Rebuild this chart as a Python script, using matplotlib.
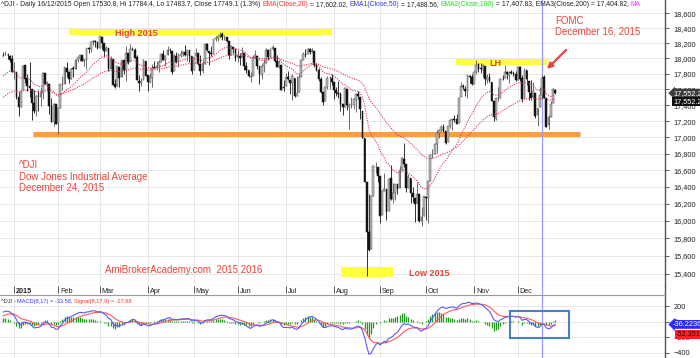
import numpy as np
import matplotlib
matplotlib.use("Agg")
import matplotlib.pyplot as plt
from matplotlib.ticker import FixedLocator, NullLocator, FuncFormatter
from matplotlib.patches import Rectangle
import matplotlib.transforms as mtransforms

plt.rcParams['font.family'] = ['Liberation Sans', 'DejaVu Sans']

# ---------------- data ----------------
first_bar = -5                      # 5 bars of late Dec 2014 before Jan 2, 2015
month_starts = [0, 20, 39, 61, 82, 102, 124, 146, 167, 188, 210, 230]
month_labels = ["2015", "Feb", "Mar", "Apr", "May", "Jun", "Jul", "Aug", "Sep", "Oct", "Nov", "Dec"]
fomc_bar = 241
price_ticks = list(range(15400, 18601, 200))
macd_ticks = [200, 0, -200, -400]

opens = [
    18035, 18038, 18046, 18035, 17987,
    17823, 17821, 17505, 17374, 17591, 17908, 17742, 17644, 17600, 17430, 17321, 17516, 17509, 17555, 17812, 17666, 17673, 17390, 17193, 17411,
    17170, 17363, 17662, 17674, 17880, 17819, 17730, 17869, 17864, 17977, 18010, 18045, 17966, 17985, 18134, 18117, 18211, 18224, 18215,
    18135, 18281, 18199, 18097, 18134, 17859, 17991, 17666, 17637, 17891, 17757, 17973, 17844, 18073, 17962, 18126, 18111, 18012, 17710, 17680, 17718, 17969,
    17778, 17700, 17745, 17884, 17875, 17903, 17956, 18053, 17978, 18040, 18110, 18098, 17831, 18037, 17952, 18034, 18061, 18082, 18038, 18108, 18032,
    17844, 18025, 18069, 17932, 17835, 17925, 18187, 18101, 18069, 18060, 18254, 18267, 18300, 18315, 18282, 18286, 18229, 18045, 18154, 18128,
    18017, 18031, 18016, 18069, 17905, 17848, 17765, 17767, 18002, 18032, 17895, 17790, 17907, 17938, 18116, 18018, 18120, 18142, 17968, 17891, 17912, 17627,
    17639, 17763, 17725, 17684, 17752, 17520, 17562, 17765, 17978, 18055, 18054, 18119, 18087, 18096, 17912, 17850, 17732, 17561, 17446, 17634, 17746, 17751,
    17689, 17597, 17556, 17547, 17417, 17377, 17608, 17382, 17403, 17400, 17466, 17536, 17502, 17330, 16990, 16459, 15872, 15676, 16291, 16640, 16632,
    16528, 16066, 16352, 16375, 16109, 16505, 16252, 16330, 16433, 16382, 16599, 16738, 16674, 16391, 16505, 16330, 16271, 16207, 16312, 16001, 16058,
    16278, 16267, 16471, 16778, 16791, 16912, 17055, 17084, 17121, 17080, 16944, 17141, 17209, 17223, 17220, 17175, 17508, 17645, 17607, 17581, 17772, 17756,
    17673, 17820, 17927, 17872, 17854, 17905, 17718, 17763, 17697, 17448, 17229, 17488, 17493, 17739, 17740, 17823, 17778, 17821, 17814, 17800,
    17719, 17884, 17740, 17485, 17845, 17703, 17558, 17500, 17554, 17276, 17375, 17530.8, 17756, 17495, 17154, 17252, 17428, 17593,
]
highs = [
    18086, 18103, 18073, 18043, 18044,
    17951, 17821, 17562, 17597, 17916, 17916, 17793, 17951, 17600, 17598, 17528, 17587, 17621, 17821, 17812, 17706, 17673, 17490, 17429, 17411,
    17361, 17666, 17769, 17885, 17951, 17822, 17881, 17902, 17991, 18020, 18049, 18045, 17991, 18141, 18146, 18213, 18246, 18240, 18215,
    18288, 18281, 18199, 18165, 18135, 18029, 17991, 17731, 17901, 17891, 17977, 17973, 18164, 18073, 18184, 18152, 18138, 18044, 17784, 17746, 17988, 17969,
    17778, 17810, 17927, 17970, 17962, 17979, 18060, 18105, 18045, 18159, 18134, 18098, 18056, 18089, 18069, 18106, 18101, 18175, 18111, 18108, 18032,
    18024, 18133, 18069, 18043, 17964, 18192, 18200, 18101, 18162, 18252, 18288, 18303, 18351, 18350, 18314, 18286, 18229, 18175, 18154, 18128,
    18107, 18074, 18152, 18069, 17949, 17848, 17827, 18048, 18108, 18032, 17895, 17926, 17985, 18137, 18116, 18137, 18175, 18142, 18046, 17985, 17912, 17720,
    17815, 17832, 17726, 17803, 17752, 17770, 17794, 17978, 18078, 18128, 18138, 18133, 18137, 18096, 17943, 17869, 17753, 17561, 17631, 17770, 17767, 17794,
    17689, 17629, 17709, 17571, 17417, 17634, 17608, 17430, 17508, 17485, 17552, 17578, 17502, 17330, 16990, 16459, 16312, 16285, 16666, 16693, 16632,
    16528, 16351, 16559, 16375, 16506, 16664, 16441, 16434, 16433, 16644, 16755, 16933, 16674, 16555, 16505, 16395, 16271, 16455, 16312, 16161, 16285,
    16278, 16472, 16798, 16855, 16934, 17085, 17084, 17149, 17162, 17080, 17142, 17216, 17231, 17272, 17287, 17503, 17689, 17673, 17644, 17780, 17789, 17799,
    17836, 17977, 17941, 17943, 17924, 17905, 17799, 17810, 17697, 17448, 17484, 17628, 17740, 17781, 17915, 17836, 17841, 17849, 17837, 17837,
    17895, 17901, 17787, 17876, 17845, 17703, 17720, 17691, 17554, 17370, 17627, 17784.4, 17778, 17495, 17272, 17447, 17615, 17606,
]
lows = [
    18027, 18038, 17990, 17958, 17820,
    17731, 17475, 17262, 17374, 17591, 17681, 17584, 17500, 17214, 17303, 17267, 17331, 17395, 17475, 17671, 17580, 17288, 17189, 17136, 17164,
    17037, 17363, 17597, 17674, 17759, 17687, 17730, 17757, 17864, 17949, 17961, 17969, 17907, 17862, 18075, 18087, 18180, 18152, 18125,
    18134, 18123, 18016, 18097, 17841, 17859, 17662, 17621, 17637, 17630, 17757, 17791, 17713, 17930, 17962, 18105, 18011, 17718, 17579, 17639, 17718, 17770,
    17577, 17679, 17624, 17875, 17857, 17818, 17948, 17977, 17899, 18040, 18071, 17795, 17831, 17944, 17888, 18012, 18026, 18026, 17970, 17958, 17792,
    17844, 18025, 17917, 17782, 17805, 17925, 18097, 17920, 18033, 18060, 18226, 18234, 18269, 18239, 18246, 18217, 17990, 18045, 18066, 17967,
    17949, 17920, 18016, 17850, 17810, 17757, 17697, 17767, 18002, 17867, 17664, 17731, 17822, 17938, 17985, 18018, 18111, 17956, 17889, 17876, 17592, 17585,
    17639, 17715, 17537, 17466, 17501, 17520, 17562, 17765, 17978, 18021, 18054, 18051, 18087, 17883, 17839, 17710, 17553, 17400, 17446, 17599, 17605, 17660,
    17472, 17518, 17495, 17330, 17276, 17377, 17335, 17100, 17365, 17354, 17309, 17476, 17230, 16991, 16459, 15370, 15651, 15676, 16291, 16560, 16453,
    15979, 16066, 16352, 16012, 16109, 16244, 16212, 16244, 16318, 16382, 16596, 16639, 16343, 16391, 16211, 16223, 15982, 16207, 15982, 15942, 16058,
    16014, 15980, 16471, 16750, 16791, 16804, 16995, 17066, 17070, 16917, 16944, 17117, 17091, 17184, 17163, 17175, 17508, 17599, 17520, 17490, 17682, 17660,
    17673, 17796, 17825, 17807, 17765, 17657, 17683, 17699, 17448, 17199, 17210, 17454, 17493, 17714, 17740, 17736, 17676, 17793, 17775, 17708,
    17719, 17703, 17439, 17485, 17652, 17462, 17461, 17500, 17238, 17139, 17375, 17483.7, 17491, 17128, 17101, 17252, 17428, 17536,
]
closes = [
    18030, 18053, 18038, 17983, 17823,
    17833, 17501, 17371, 17584, 17907, 17737, 17640, 17613, 17427, 17320, 17511, 17515, 17554, 17813, 17672, 17678, 17387, 17191, 17416, 17165,
    17361, 17666, 17673, 17885, 17824, 17729, 17868, 17862, 17973, 18019, 18047, 17972, 17986, 18140, 18117, 18209, 18225, 18215, 18133,
    18288, 18204, 18097, 18136, 17856, 17995, 17662, 17635, 17895, 17749, 17977, 17849, 18076, 17959, 18128, 18116, 18011, 17718, 17678, 17712, 17976, 17776,
    17698, 17763, 17881, 17875, 17903, 17958, 18057, 17977, 18036, 18113, 18105, 17826, 18034, 17949, 18038, 18058, 18080, 18038, 18110, 18035, 17841,
    18024, 18070, 17928, 17841, 17924, 18191, 18105, 18068, 18060, 18252, 18272, 18298, 18312, 18285, 18285, 18232, 18042, 18163, 18126, 18011,
    18040, 18011, 18076, 17905, 17849, 17766, 17765, 18000, 18039, 17899, 17792, 17905, 17935, 18116, 18015, 18120, 18144, 17967, 17891, 17947, 17597, 17620,
    17758, 17731, 17684, 17777, 17516, 17549, 17760, 17978, 18054, 18050, 18121, 18086, 18100, 17920, 17851, 17732, 17569, 17441, 17631, 17751, 17746, 17690,
    17598, 17551, 17541, 17419, 17373, 17615, 17403, 17402, 17409, 17477, 17546, 17512, 17349, 16991, 16460, 15871, 15666, 16285, 16655, 16643, 16528,
    16059, 16351, 16374, 16102, 16492, 16253, 16330, 16433, 16371, 16599, 16740, 16675, 16385, 16511, 16331, 16280, 16202, 16315, 16001, 16049, 16285,
    16272, 16472, 16777, 16791, 16913, 17051, 17084, 17131, 17082, 16925, 17142, 17216, 17230, 17218, 17169, 17489, 17647, 17624, 17582, 17780, 17756, 17664,
    17829, 17919, 17868, 17863, 17910, 17731, 17758, 17703, 17449, 17245, 17484, 17490, 17738, 17733, 17824, 17792, 17813, 17814, 17798, 17720,
    17888, 17730, 17478, 17848, 17730, 17568, 17493, 17575, 17265, 17368, 17525, 17749.1, 17495, 17128, 17252, 17418, 17603, 17552.2,
]

# indicator starting values (state of the averages at the first visible bar)
ema20_seed, ema50_seed = 17742, 17478
ema8_seed, ema17_seed, signal_seed = 17800, 17690, 60

# annotation levels (price) and spans (bar index)
high_2015_level, high_span = 18351, (25.0, 145.1)
support_level, support_span = 17040, (8.6, 258.3)
lh_level, lh_span = 17952, (201.7, 243.3)
low_2015_level, low_span = 15420, (149.2, 173.0)

title_parts = [
    ("^DJI - Daily 16/12/2015 Open 17530.8, Hi 17784.4, Lo 17483.7, Close 17749.1 (1.3%) ", "#222222"),
    ("EMA(Close,20)", "#ff3030"), (" = 17,602.02, ", "#222222"),
    ("EMA1(Close,50)", "#3535ff"), (" = 17,488.56, ", "#222222"),
    ("EMA2(Close,100)", "#22dd22"), (" = 17,407.83, EMA3(Close,200) = 17,404.82, ", "#222222"),
    ("MA", "#ff33ff"),
]
macd_title_parts = [
    ("^DJI - ", "#222222"), ("MACD(8,17) = -33.58,", "#3535ff"), (" Signal(8,17,9) = -27.68", "#ff3030"),
]
macd_last_label, signal_last_label = -36.2236, -52.3518

n = len(closes)
if not (len(opens) == len(highs) == len(lows) == n):
    raise ValueError(f"length mismatch {len(opens)} {len(highs)} {len(lows)} {n}")

x = np.arange(n) + first_bar
o = np.array(opens, float); h = np.array(highs, float)
l = np.array(lows, float); c = np.array(closes, float)


def ema(vals, period, seed):
    a = 2.0 / (period + 1)
    e = seed
    out = []
    for v in vals:
        e = e + a * (v - e)
        out.append(e)
    return np.array(out)


ema20 = ema(c, 20, ema20_seed)
ema50 = ema(c, 50, ema50_seed)
macd = ema(c, 8, ema8_seed) - ema(c, 17, ema17_seed)
signal = ema(macd, 9, signal_seed)
hist = macd - signal

# ---------------- layout ----------------
W, H = 700, 358
PR = 665
fig = plt.figure(figsize=(W / 100, H / 100), dpi=100)
fig.patch.set_facecolor("white")
ax = fig.add_axes([0, 1 - 286 / H, PR / W, 286 / H])
strip = fig.add_axes([0, 1 - 295 / H, PR / W, 9 / H])
axm = fig.add_axes([0, 0, PR / W, 63 / H])
xlim = (-6.5, 297.2)
GRID = "#e3e3e3"
RED = "#e8453c"

# ---- price panel
ax.set_yscale("log")
ax.set_ylim(15262, 18778)
ax.set_xlim(*xlim)
ax.yaxis.set_major_locator(FixedLocator(price_ticks))
ax.yaxis.set_minor_locator(NullLocator())
ax.yaxis.set_major_formatter(FuncFormatter(lambda v, p: f"{v:,.0f}"))
ax.yaxis.tick_right()
ax.tick_params(axis="y", labelsize=5.3, length=3, width=0.6, color="#444444", labelcolor="#222222", pad=3)
ax.set_xticks(month_starts)
ax.tick_params(axis="x", length=0, labelbottom=False)
ax.grid(True, color=GRID, lw=0.6, zorder=0)
ax.set_axisbelow(True)
for s in ("top", "left"):
    ax.spines[s].set_visible(False)
ax.spines["bottom"].set_color("#9a9a9a"); ax.spines["bottom"].set_linewidth(0.8)
ax.spines["right"].set_color("#555555"); ax.spines["right"].set_linewidth(1.0)

# highlight bands
ax.hlines(high_2015_level, *high_span, colors="#ffff3a", lw=4.3, zorder=1)
ax.hlines(lh_level, *lh_span, colors="#ffff3a", lw=4.3, zorder=1)
ax.hlines(low_2015_level, *low_span, colors="#ffff3a", lw=7.2, zorder=1)
ax.hlines(support_level, *support_span, colors="#ff9d3c", lw=3.6, zorder=1)

# candles
up = c >= o
bb = np.minimum(o, c)
bh = np.maximum(np.abs(c - o), 2.0)
ax.vlines(x[up], l[up], h[up], color="#555555", lw=0.6, zorder=3)
ax.vlines(x[~up], l[~up], h[~up], color="#111111", lw=0.6, zorder=3)
ax.bar(x[up], bh[up], bottom=bb[up], width=0.8, color="#bdbdbd", edgecolor="#555555", lw=0.35, zorder=4)
ax.bar(x[~up], bh[~up], bottom=bb[~up], width=0.8, color="#161616", edgecolor="#111111", lw=0.35, zorder=4)

# moving averages
ax.plot(x, ema20, color="#dd3355", lw=0.8, ls=(0, (1, 1.2)), zorder=5)
ax.plot(x, ema50, color="#dd3355", lw=0.8, ls=(0, (1, 1.2)), zorder=5)

ax.axvline(fomc_bar, color="#9a9aff", lw=0.9, zorder=2)


def P(xp, yp):
    return (xp / PR, 1 - yp / 286)


def txt(xp, yp, s, size=7, bold=False):
    ax.text(*P(xp, yp), s, transform=ax.transAxes, fontsize=size, color=RED, ha="left", va="center",
            fontweight="bold" if bold else "normal", zorder=8)


txt(115, 34, "High 2015", 6.5, True)
txt(489, 63, "LH", 6.5, True)
txt(409, 274, "Low 2015", 6.5, True)
txt(555, 20.5, "FOMC")
txt(555, 31.7, "December 16, 2015")
txt(19, 165, "^DJI")
txt(19, 176.7, "Dow Jones Industrial Average")
txt(19, 187.7, "December 24, 2015")
txt(105, 270, "AmiBrokerAcademy.com  2015 2016")
ax.annotate("", xy=P(545, 71), xytext=P(568, 48), xycoords="axes fraction", textcoords="axes fraction",
            arrowprops=dict(arrowstyle="-|>", color=RED, lw=1.6, mutation_scale=8), zorder=8)

# last price boxes
ptrans = mtransforms.blended_transform_factory(ax.transAxes, ax.transData)
last_txt = f"{closes[-1]:,.1f}"
ax.text(1.012, closes[-1], last_txt, transform=ptrans, fontsize=5.3, color="white", va="center", ha="left",
        bbox=dict(boxstyle="larrow,pad=0.12", fc="#3c3c3c", ec="none"), clip_on=False, zorder=10)
ax.annotate(last_txt, xy=(1.012, closes[-1]), xycoords=ptrans, xytext=(0, -6), textcoords="offset points",
            fontsize=5.3, color="white", va="center", ha="left",
            bbox=dict(boxstyle="square,pad=0.12", fc="#111111", ec="none"), annotation_clip=False, zorder=10)

# ---- date strip
strip.set_xlim(*xlim); strip.set_ylim(0, 1)
strip.set_xticks([]); strip.set_yticks([])
for s in ("top", "left", "bottom"):
    strip.spines[s].set_visible(False)
strip.spines["right"].set_color("#555555"); strip.spines["right"].set_linewidth(1.0)
strip.vlines(month_starts, 0.25, 1.0, color="#555555", lw=0.7)
for ms, lab in zip(month_starts, month_labels):
    strip.text(ms + 0.9, 0.42, lab, fontsize=5.2, color="#222222", ha="left", va="center",
               fontweight="bold" if lab == "2015" else "normal")
strip.axvline(fomc_bar, color="#9a9aff", lw=0.9)

# ---- MACD panel
axm.set_xlim(*xlim); axm.set_ylim(-468, 342)
axm.yaxis.tick_right()
axm.set_yticks(macd_ticks)
axm.tick_params(axis="y", labelsize=5.3, length=3, width=0.6, color="#444444", labelcolor="#222222", pad=3)
axm.set_xticks(month_starts)
axm.tick_params(axis="x", length=0, labelbottom=False)
axm.grid(True, color=GRID, lw=0.6, zorder=0)
axm.set_axisbelow(True)
for s in ("bottom", "left"):
    axm.spines[s].set_visible(False)
axm.spines["top"].set_color("#9a9a9a"); axm.spines["top"].set_linewidth(0.8)
axm.spines["right"].set_color("#555555"); axm.spines["right"].set_linewidth(1.0)
axm.vlines(x, 0, hist, color="#1f9a1f", lw=0.9, zorder=2)
axm.plot(x, signal, color="#ff5a5a", lw=0.8, zorder=3)
axm.plot(x, macd, color="#5a5aff", lw=0.8, zorder=3)
axm.axvline(fomc_bar, color="#9a9aff", lw=0.9, zorder=1)
axm.add_patch(Rectangle((510 / PR, (358 - 337.7) / 63), 59 / PR, 27 / 63, transform=axm.transAxes,
                        fill=False, ec="#4a7fc1", lw=1.5, zorder=6))
mtrans = mtransforms.blended_transform_factory(axm.transAxes, axm.transData)
axm.text(1.012, macd_last_label, f"{macd_last_label:.4f}", transform=mtrans, fontsize=5.3, color="white",
         va="center", ha="left", bbox=dict(boxstyle="larrow,pad=0.12", fc="#2a2aff", ec="none"), clip_on=False, zorder=10)
axm.annotate(f"{signal_last_label:.4f}", xy=(1.012, macd_last_label), xycoords=mtrans, xytext=(2, -7.5),
             textcoords="offset points", fontsize=5.3, color="#111111", va="center", ha="left",
             bbox=dict(boxstyle="square,pad=0.12", fc="#ff2020", ec="none"), annotation_clip=False, zorder=10)

# ---- multi-colour header lines
fig.canvas.draw()
renderer = fig.canvas.get_renderer()


def text_width(s, size):
    t = fig.text(0, 0, s, fontsize=size)
    w = t.get_window_extent(renderer).width
    t.remove()
    return w


def seg_text(axes, x0, y_top_px, parts, size):
    bar_w = text_width("|", size)
    prefix = ""
    for s, col in parts:
        core = s.strip(" ")
        lead = s[:len(s) - len(s.lstrip(" "))]
        xx = x0 + text_width(prefix + lead + "|", size) - bar_w if (prefix + lead) else x0
        if core:
            t = fig.text(xx / W, 1 - y_top_px / H, core, fontsize=size, color=col, ha="left", va="center")
            t.set_clip_box(axes.bbox)
            t.set_clip_on(True)
        prefix += s


seg_text(ax, 1, 5, title_parts, 4.9)
seg_text(axm, 1, 301.5, macd_title_parts, 4.1)

fig.savefig("out.png", dpi=100)
